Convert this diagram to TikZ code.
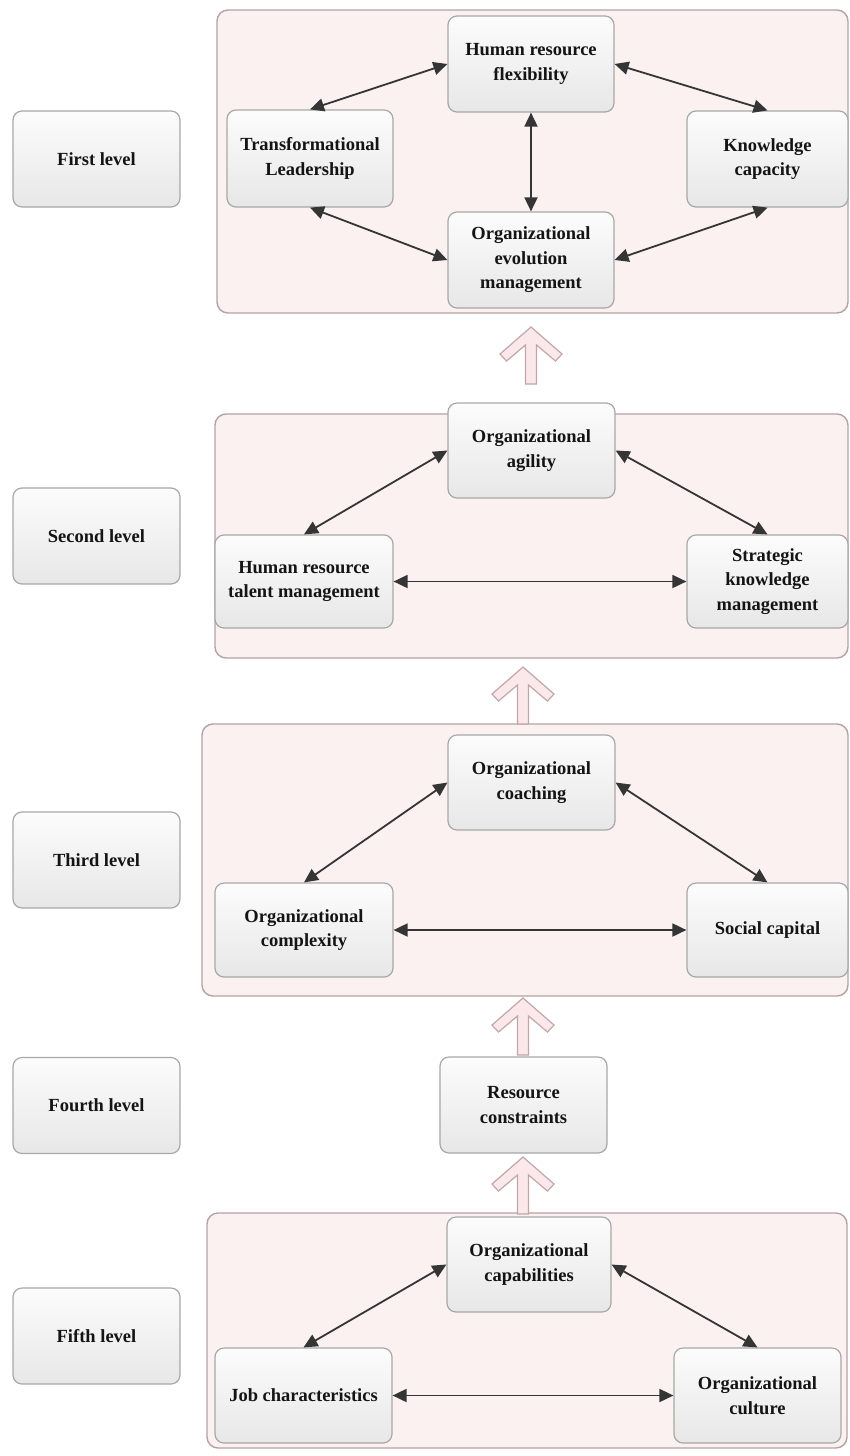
\documentclass[tikz,border=0pt]{standalone}
\usepackage{fontspec}
\setmainfont{Liberation Serif}
\usetikzlibrary{arrows.meta}
\definecolor{boxline}{HTML}{A8A8A8}
\definecolor{boxtop}{HTML}{FCFCFC}
\definecolor{boxbot}{HTML}{E7E7E7}
\definecolor{contfill}{HTML}{FCF1F1}
\definecolor{contline}{HTML}{B5A2A3}
\definecolor{arrline}{HTML}{353535}
\definecolor{bigfill}{HTML}{FBE8EA}
\definecolor{bigline}{HTML}{C2A6A8}
\begin{document}
\begin{tikzpicture}[x=1pt,y=-1pt,
  box/.style={draw=boxline, line width=1.2pt, rounded corners=9pt,
    top color=boxtop, bottom color=boxbot, align=center,
    font=\bfseries\fontsize{18.5}{24.5}\selectfont, inner sep=1pt, text=black!92},
  container/.style={draw=contline, line width=1.4pt, rounded corners=11pt,
    fill=contfill, inner sep=0pt},
  link/.style={draw=arrline, line width=1.8pt,
    {Triangle[length=14pt,width=13pt]}-{Triangle[length=14pt,width=13pt]}},
  bigup/.pic={\draw[draw=bigline, fill=bigfill, line width=1.2pt]
    (0,0) -- (31,27) -- (24.5,34) -- (5.5,18) -- (5.5,57) -- (-5.5,57)
    -- (-5.5,18) -- (-24.5,34) -- (-31,27) -- cycle;}
]
\useasboundingbox (0,0) rectangle (849,1456);
\fill[white] (0,0) rectangle (849,1456);

% containers
\node[container, minimum width=631pt, minimum height=303pt] (c1) at (532.5,161.5) {};
\node[container, minimum width=633pt, minimum height=244pt] (c2) at (531.5,536) {};
\node[container, minimum width=646pt, minimum height=272pt] (c3) at (525,860) {};
\node[container, minimum width=640pt, minimum height=235pt] (c5) at (527,1330.5) {};

% level labels
\node[box, minimum width=167pt, minimum height=96pt] (l1) at (96.5,159) {First level};
\node[box, minimum width=167pt, minimum height=96pt] (l2) at (96.5,536) {Second level};
\node[box, minimum width=167pt, minimum height=96pt] (l3) at (96.5,860) {Third level};
\node[box, minimum width=167pt, minimum height=96pt] (l4) at (96.5,1105.5) {Fourth level};
\node[box, minimum width=167pt, minimum height=96pt] (l5) at (96.5,1336) {Fifth level};

% level 1
\node[box, minimum width=166pt, minimum height=96pt] (hrf) at (531,64) {Human resource\\flexibility};
\node[box, minimum width=166pt, minimum height=97pt] (tl) at (310,158.5) {Transformational\\Leadership};
\node[box, minimum width=161pt, minimum height=96pt] (kc) at (767.5,159) {Knowledge\\capacity};
\node[box, minimum width=166pt, minimum height=96pt] (oem) at (531,260) {Organizational\\evolution\\management};
\draw[link] (tl.north) -- (hrf.west);
\draw[link] (hrf.east) -- (kc.north);
\draw[link] (hrf.south) -- (oem.north);
\draw[link] (tl.south) -- (oem.west);
\draw[link] (oem.east) -- (kc.south);

% level 2
\node[box, minimum width=167pt, minimum height=95pt] (oa) at (531.5,450.5) {Organizational\\agility};
\node[box, minimum width=178pt, minimum height=93pt] (hrtm) at (304,581.5) {Human resource\\talent management};
\node[box, minimum width=161pt, minimum height=93pt] (skm) at (767.5,581.5) {Strategic\\knowledge\\management};
\draw[link] (hrtm.north) -- (oa.west);
\draw[link] (oa.east) -- (skm.north);
\draw[link] (hrtm.east) -- (skm.west);

% level 3
\node[box, minimum width=167pt, minimum height=95pt] (oc) at (531.5,782.5) {Organizational\\coaching};
\node[box, minimum width=178pt, minimum height=94pt] (ocx) at (304,930) {Organizational\\complexity};
\node[box, minimum width=161pt, minimum height=94pt] (sc) at (767.5,930) {Social capital};
\draw[link] (ocx.north) -- (oc.west);
\draw[link] (oc.east) -- (sc.north);
\draw[link] (ocx.east) -- (sc.west);

% level 4
\node[box, minimum width=167pt, minimum height=96pt] (rc) at (523.5,1105) {Resource\\constraints};

% level 5
\node[box, minimum width=164pt, minimum height=95pt] (ocap) at (529,1264.5) {Organizational\\capabilities};
\node[box, minimum width=177pt, minimum height=95pt] (jc) at (303.5,1395.5) {Job characteristics};
\node[box, minimum width=167pt, minimum height=95pt] (ocu) at (757.5,1395.5) {Organizational\\culture};
\draw[link] (jc.north) -- (ocap.west);
\draw[link] (ocap.east) -- (ocu.north);
\draw[link] (jc.east) -- (ocu.west);

% hollow arrows between levels
\coordinate (t1) at (531,327);
\coordinate (t2) at (523,667);
\coordinate (t3) at (523,998);
\coordinate (t4) at (523,1157);
\pic at (t1) {bigup};
\pic at (t2) {bigup};
\pic at (t3) {bigup};
\pic at (t4) {bigup};
\end{tikzpicture}
\end{document}
